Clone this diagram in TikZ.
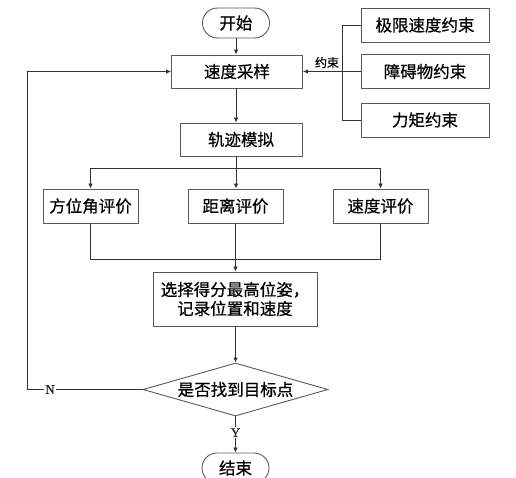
\documentclass[tikz,border=0pt]{standalone}
\usepackage{fontspec}
\setmainfont{Liberation Serif}
\newfontfamily\cjk[FakeBold=0.6]{Noto Sans CJK SC}
\newfontfamily\lbl[FakeBold=1]{Liberation Serif}
\usetikzlibrary{shapes.geometric,shapes.misc,arrows.meta}
\begin{document}
\begin{tikzpicture}[x=1pt,y=-1pt,
  line width=0.8pt, draw=black!75,
  txt/.style={font=\cjk\fontsize{16.5}{19}\selectfont},
  box/.style={txt, draw=black!65, line width=0.9pt, rectangle, inner sep=0pt},
  term/.style={txt, draw=black!65, line width=0.9pt, rounded rectangle, inner sep=0pt, minimum width=67pt, minimum height=30pt},
  dec/.style={txt, draw=black!65, line width=0.9pt, diamond, aspect=3.5, inner sep=0pt},
  arr/.style={-{Latex[length=5pt,width=4.5pt]}, draw=black!80, line width=0.8pt},
  ln/.style={draw=black!80, line width=0.8pt},
  yn/.style={font=\lbl\fontsize{13}{15}\selectfont, text=black!85, inner sep=1pt}
]
\useasboundingbox (0,0) rectangle (516,477);

\node[term] (start) at (236,23) {开始};
\node[box, minimum width=131pt, minimum height=33pt] (sample) at (237,71.5) {速度采样};
\node[box, minimum width=122pt, minimum height=33pt] (traj) at (241,139.5) {轨迹模拟};

\node[box, minimum width=128pt, minimum height=34pt] (r1) at (425,25) {极限速度约束};
\node[box, minimum width=128pt, minimum height=34pt] (r2) at (425,71.5) {障碍物约束};
\node[box, minimum width=128pt, minimum height=34pt] (r3) at (425,120) {力矩约束};

\node[box, minimum width=95pt, minimum height=34pt] (e1) at (90.5,206) {方位角评价};
\node[box, minimum width=95pt, minimum height=34pt] (e2) at (235.5,206) {距离评价};
\node[box, minimum width=95pt, minimum height=34pt] (e3) at (380.5,206) {速度评价};

\node[box, minimum width=164pt, minimum height=54pt, align=center] (sel) at (235,299) {选择得分最高位姿，\\记录位置和速度};

\node[dec, minimum width=185pt, minimum height=53pt] (dia) at (235.5,389.5) {是否找到目标点};

\node[term] (end) at (235.5,468) {结束};

% main flow
\draw[arr] (start.south) -- (sample.north -| start.south);
\draw[arr] (sample.south -| start.south) -- (traj.north -| start.south);
\coordinate (split) at (236,168);
\coordinate (merge) at (235.5,259);
\draw[ln] (traj.south -| split) -- (split);
\draw[arr] (split) -| (e1.north);
\draw[arr] (split) -- (e2.north -| split);
\draw[arr] (split) -| (e3.north);
\draw[ln] (e1.south) |- (merge);
\draw[ln] (e3.south) |- (merge);
\draw[arr] (e2.south) -- (sel.north -| e2.south);
\draw[arr] (sel.south -| dia.north) -- (dia.north);
\draw[arr] (dia.south) -- node[yn, fill=white, pos=0.45] {Y} (end.north);

% loop back
\coordinate (loop) at (27,389.5);
\draw[ln] (dia.west) -- node[yn, fill=white, pos=0.8] {N} (loop);
\draw[arr] (loop) |- (sample.west);

% constraints
\coordinate (cj) at (343,71.5);
\draw[ln] (r1.west) -- ++(-18,0) |- (r3.west);
\draw[ln] (r2.west) -- (cj);
\draw[arr] (cj) -- node[above, font=\cjk\fontsize{12}{14}\selectfont, inner sep=3pt, pos=0.4] {约束} (sample.east);
\end{tikzpicture}
\end{document}
